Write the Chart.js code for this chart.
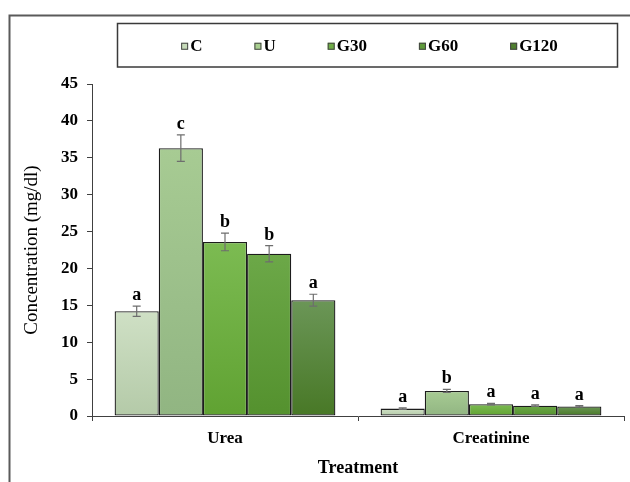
<!DOCTYPE html>
<html>
<head>
<meta charset="utf-8">
<script src="https://cdn.jsdelivr.net/npm/chart.js@4/dist/chart.umd.min.js"></script>
<style>
  html, body { margin: 0; padding: 0; background: #ffffff; }
  #wrap { width: 630px; height: 482px; position: relative; }
</style>
</head>
<body>
<div id="wrap"><canvas id="chart" width="630" height="482"></canvas></div>
<script>
// Serum urea and creatinine by treatment group (mean ± SE, mg/dl)
const categories = ['Urea', 'Creatinine'];
const seriesNames = ['C', 'U', 'G30', 'G60', 'G120'];

const valuesC    = [14.2, 1.0];
const valuesU    = [36.3, 3.4];
const valuesG30  = [23.6, 1.6];
const valuesG60  = [22.0, 1.4];
const valuesG120 = [15.7, 1.3];

const errorsC    = [0.7, 0.1];
const errorsU    = [1.8, 0.2];
const errorsG30  = [1.2, 0.1];
const errorsG60  = [1.1, 0.1];
const errorsG120 = [0.8, 0.1];

const lettersC    = ['a', 'a'];
const lettersU    = ['c', 'b'];
const lettersG30  = ['b', 'a'];
const lettersG60  = ['b', 'a'];
const lettersG120 = ['a', 'a'];

const yMin = 0, yMax = 45, yStep = 5;

// fill shades: [top, bottom, legend swatch]
const shades = [
  ['#cfe0c5', '#b4caa8', '#c6dbb9'],
  ['#a7cb93', '#91b582', '#a8cf8f'],
  ['#7cbb52', '#60a232', '#70ad47'],
  ['#6ca848', '#54912e', '#5f9b3b'],
  ['#6b9657', '#487826', '#4e7f2e']
];

const allValues  = [valuesC, valuesU, valuesG30, valuesG60, valuesG120];
const allErrors  = [errorsC, errorsU, errorsG30, errorsG60, errorsG120];
const allLetters = [lettersC, lettersU, lettersG30, lettersG60, lettersG120];

const SERIF = '"Liberation Serif", "Times New Roman", serif';

function barFill(ctx, k) {
  const chart = ctx.chart;
  const area = chart.chartArea;
  if (!area || ctx.type !== 'data') return shades[k][0];
  const y = chart.scales.y;
  const top = y.getPixelForValue(ctx.raw);
  const bottom = y.getPixelForValue(0);
  if (!isFinite(top) || bottom - top < 1) return shades[k][1];
  const g = chart.ctx.createLinearGradient(0, top, 0, bottom);
  g.addColorStop(0, shades[k][0]);
  g.addColorStop(1, shades[k][1]);
  return g;
}

const datasets = seriesNames.map((name, k) => ({
  label: name,
  data: allValues[k],
  backgroundColor: (ctx) => barFill(ctx, k),
  borderColor: '#1c1c1c',
  borderWidth: 1.3,
  borderSkipped: false,
  categoryPercentage: 0.83,
  barPercentage: 1.0
}));

// frame, legend box, error bars and significance letters
const decorations = {
  id: 'decorations',
  beforeDraw(chart) {
    const c = chart.ctx;
    c.save();
    c.fillStyle = '#ffffff';
    c.fillRect(0, 0, chart.width, chart.height);
    c.strokeStyle = '#5a5a5a';
    c.lineWidth = 2;
    c.beginPath();
    c.moveTo(9.5, chart.height + 2);
    c.lineTo(9.5, 15.5);
    c.lineTo(chart.width + 2, 15.5);
    c.stroke();
    c.restore();
  },
  afterDatasetsDraw(chart) {
    const c = chart.ctx;
    const y = chart.scales.y;
    c.save();
    chart.data.datasets.forEach((ds, k) => {
      const meta = chart.getDatasetMeta(k);
      meta.data.forEach((bar, i) => {
        const v = ds.data[i];
        const e = allErrors[k][i];
        const x = bar.x;
        const yHi = y.getPixelForValue(v + e);
        const yLo = y.getPixelForValue(v - e);
        c.strokeStyle = '#6e6e6e';
        c.lineWidth = 1.2;
        c.beginPath();
        c.moveTo(x, yHi); c.lineTo(x, yLo);
        c.moveTo(x - 4, yHi); c.lineTo(x + 4, yHi);
        c.moveTo(x - 4, yLo); c.lineTo(x + 4, yLo);
        c.stroke();
        c.fillStyle = '#000000';
        c.font = 'bold 18px ' + SERIF;
        c.textAlign = 'center';
        c.textBaseline = 'alphabetic';
        c.fillText(allLetters[k][i], x, yHi - 6);
      });
    });
    c.restore();
  },
  afterDraw(chart) {
    const c = chart.ctx;
    c.save();
    // legend box
    const bx = 117.5, by = 23.5, bw = 500, bh = 43.5;
    c.strokeStyle = '#3a3a3a';
    c.lineWidth = 1.5;
    c.strokeRect(bx, by, bw, bh);
    c.font = 'bold 17px ' + SERIF;
    c.textBaseline = 'middle';
    c.textAlign = 'left';
    const sw = 7, sgap = 2, itemGap = 52;
    const widths = seriesNames.map(n => sw + sgap + c.measureText(n).width);
    const total = widths.reduce((a, b) => a + b, 0) + itemGap * (seriesNames.length - 1);
    let x = bx + (bw - total) / 2 + 2;
    const cy = by + bh / 2 + 1;
    seriesNames.forEach((n, k) => {
      c.fillStyle = shades[k][2];
      c.fillRect(x, cy - sw / 2, sw, sw);
      c.strokeStyle = '#444444';
      c.lineWidth = 1;
      c.strokeRect(x + 0.5, cy - sw / 2 + 0.5, sw - 1, sw - 1);
      c.fillStyle = '#000000';
      c.fillText(n, x + sw + sgap, cy);
      x += widths[k] + itemGap;
    });
    c.restore();
  }
};

new Chart(document.getElementById('chart'), {
  type: 'bar',
  data: { labels: categories, datasets },
  plugins: [decorations],
  options: {
    responsive: false,
    devicePixelRatio: 1,
    animation: false,
    layout: { padding: { left: 0, right: 6, top: 84, bottom: 0 } },
    plugins: {
      legend: { display: false },
      tooltip: { enabled: false }
    },
    scales: {
      x: {
        afterFit(scale) { scale.height = 66; },
        grid: {
          display: true,
          drawOnChartArea: false,
          drawTicks: true,
          tickLength: 5,
          color: '#404040',
          offset: true
        },
        border: { display: true, color: '#404040', width: 1 },
        ticks: {
          color: '#000000',
          padding: 7,
          font: { family: SERIF, size: 17, weight: 'bold' }
        },
        title: {
          display: true,
          text: 'Treatment',
          color: '#000000',
          padding: { top: 0, bottom: 3 },
          font: { family: SERIF, size: 18, weight: 'bold' }
        }
      },
      y: {
        min: yMin,
        max: yMax,
        afterFit(scale) { scale.width = 92; },
        grid: {
          display: true,
          drawOnChartArea: false,
          drawTicks: true,
          tickLength: 5,
          color: '#404040'
        },
        border: { display: true, color: '#404040', width: 1 },
        ticks: {
          stepSize: yStep,
          color: '#000000',
          padding: 9,
          font: { family: SERIF, size: 17, weight: 'bold' }
        },
        title: {
          display: true,
          text: 'Concentration (mg/dl)',
          color: '#000000',
          padding: { top: 21, bottom: 0 },
          font: { family: SERIF, size: 19, weight: 'normal' }
        }
      }
    }
  }
});
</script>
</body>
</html>
